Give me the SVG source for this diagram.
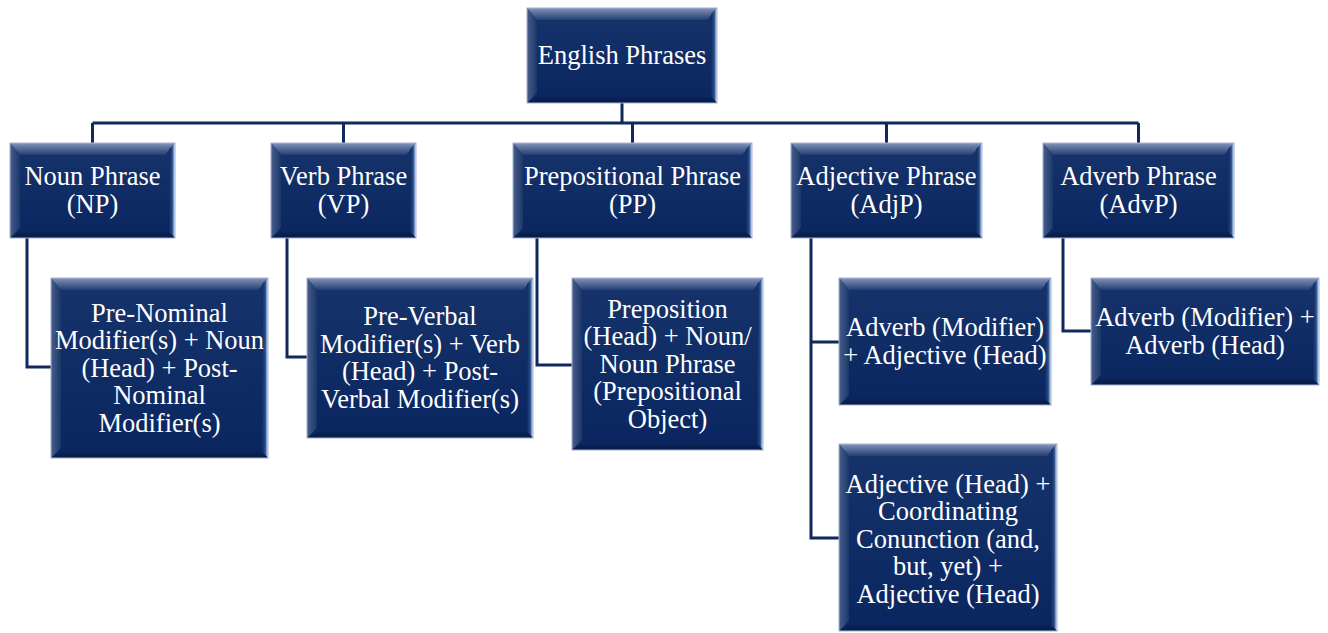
<svg xmlns="http://www.w3.org/2000/svg" width="1328" height="633" viewBox="0 0 1328 633">
  <defs>
    <linearGradient id="body" x1="0" y1="0" x2="0" y2="1">
      <stop offset="0" stop-color="#17336b"/>
      <stop offset="1" stop-color="#0a2660"/>
    </linearGradient>
    <linearGradient id="bevT" x1="0" y1="0" x2="0" y2="1">
      <stop offset="0" stop-color="#8a9ac0"/>
      <stop offset="0.2" stop-color="#7082ab"/>
      <stop offset="1" stop-color="#233e74"/>
    </linearGradient>
    <linearGradient id="bevL" x1="0" y1="0" x2="1" y2="0">
      <stop offset="0" stop-color="#4a5f8c"/>
      <stop offset="1" stop-color="#1a3669"/>
    </linearGradient>
    <linearGradient id="bevR" x1="0" y1="0" x2="1" y2="0">
      <stop offset="0" stop-color="#0e2a62"/>
      <stop offset="0.55" stop-color="#2c4c85"/>
      <stop offset="0.85" stop-color="#9cc0e8"/>
      <stop offset="1" stop-color="#d8ecff"/>
    </linearGradient>
    <linearGradient id="bevB" x1="0" y1="0" x2="0" y2="1">
      <stop offset="0" stop-color="#0a2457"/>
      <stop offset="1" stop-color="#061a45"/>
    </linearGradient>
  </defs>
  <style>
    .body { fill: url(#body); }
    .bt { fill: url(#bevT); }
    .bl { fill: url(#bevL); }
    .br { fill: url(#bevR); }
    .bb { fill: url(#bevB); }
    .edge { fill: none; stroke: #a4b4d2; stroke-width: 1; }
    .lbl { font-family: "Liberation Serif", "Times New Roman", serif; font-size: 26.5px; fill: #ffffff; text-anchor: middle; }
    .wire { fill: none; stroke: #10295a; stroke-width: 3; }
  </style>

  <rect width="1328" height="633" fill="#ffffff"/>

  <!-- connectors -->
  <g id="connectors">
    <path class="wire" d="M622,103 V123"/>
    <path class="wire" d="M92.5,123 H1138.5"/>
    <path class="wire" d="M92.5,123 V143 M343.5,123 V143 M632.5,123 V143 M886.5,123 V143 M1138.5,123 V143"/>
    <path class="wire" d="M27,238 V367 H51"/>
    <path class="wire" d="M287,238 V357 H307"/>
    <path class="wire" d="M537,238 V365 H572"/>
    <path class="wire" d="M811,238 V538 H839 M811,342 H839"/>
    <path class="wire" d="M1063,238 V331 H1091"/>
  </g>

  <!-- root -->
  <g id="root">
    <rect class="body" x="527" y="8" width="190" height="95"/>
    <polygon class="bt" points="527,8 717,8 707,20 537,20"/>
    <polygon class="bl" points="527,8 537,20 537,93 527,103"/>
    <polygon class="br" points="717,8 717,103 711,97 711,14"/>
    <polygon class="bb" points="527,103 537,97 711,97 717,103"/>
    <rect class="edge" x="527" y="8" width="190" height="95"/>
    <text class="lbl" x="622" y="64">English Phrases</text>
  </g>

  <!-- level 1 -->
  <g id="np">
    <rect class="body" x="10" y="143" width="165" height="95"/>
    <polygon class="bt" points="10,143 175,143 165,155 20,155"/>
    <polygon class="bl" points="10,143 20,155 20,228 10,238"/>
    <polygon class="br" points="175,143 175,238 169,232 169,149"/>
    <polygon class="bb" points="10,238 20,232 169,232 175,238"/>
    <rect class="edge" x="10" y="143" width="165" height="95"/>
    <text class="lbl" x="92.5" y="185.25">Noun Phrase</text>
    <text class="lbl" x="92.5" y="212.75">(NP)</text>
  </g>

  <g id="vp">
    <rect class="body" x="271" y="143" width="145" height="95"/>
    <polygon class="bt" points="271,143 416,143 406,155 281,155"/>
    <polygon class="bl" points="271,143 281,155 281,228 271,238"/>
    <polygon class="br" points="416,143 416,238 410,232 410,149"/>
    <polygon class="bb" points="271,238 281,232 410,232 416,238"/>
    <rect class="edge" x="271" y="143" width="145" height="95"/>
    <text class="lbl" x="343.5" y="185.25">Verb Phrase</text>
    <text class="lbl" x="343.5" y="212.75">(VP)</text>
  </g>

  <g id="pp">
    <rect class="body" x="513" y="143" width="239" height="95"/>
    <polygon class="bt" points="513,143 752,143 742,155 523,155"/>
    <polygon class="bl" points="513,143 523,155 523,228 513,238"/>
    <polygon class="br" points="752,143 752,238 746,232 746,149"/>
    <polygon class="bb" points="513,238 523,232 746,232 752,238"/>
    <rect class="edge" x="513" y="143" width="239" height="95"/>
    <text class="lbl" x="632.5" y="185.25">Prepositional Phrase</text>
    <text class="lbl" x="632.5" y="212.75">(PP)</text>
  </g>

  <g id="adjp">
    <rect class="body" x="791" y="143" width="191" height="95"/>
    <polygon class="bt" points="791,143 982,143 972,155 801,155"/>
    <polygon class="bl" points="791,143 801,155 801,228 791,238"/>
    <polygon class="br" points="982,143 982,238 976,232 976,149"/>
    <polygon class="bb" points="791,238 801,232 976,232 982,238"/>
    <rect class="edge" x="791" y="143" width="191" height="95"/>
    <text class="lbl" x="886.5" y="185.25">Adjective Phrase</text>
    <text class="lbl" x="886.5" y="212.75">(AdjP)</text>
  </g>

  <g id="advp">
    <rect class="body" x="1043" y="143" width="191" height="95"/>
    <polygon class="bt" points="1043,143 1234,143 1224,155 1053,155"/>
    <polygon class="bl" points="1043,143 1053,155 1053,228 1043,238"/>
    <polygon class="br" points="1234,143 1234,238 1228,232 1228,149"/>
    <polygon class="bb" points="1043,238 1053,232 1228,232 1234,238"/>
    <rect class="edge" x="1043" y="143" width="191" height="95"/>
    <text class="lbl" x="1138.5" y="185.25">Adverb Phrase</text>
    <text class="lbl" x="1138.5" y="212.75">(AdvP)</text>
  </g>

  <!-- level 2 -->
  <g id="np-structure">
    <rect class="body" x="51" y="278" width="217" height="180"/>
    <polygon class="bt" points="51,278 268,278 258,290 61,290"/>
    <polygon class="bl" points="51,278 61,290 61,448 51,458"/>
    <polygon class="br" points="268,278 268,458 262,452 262,284"/>
    <polygon class="bb" points="51,458 61,452 262,452 268,458"/>
    <rect class="edge" x="51" y="278" width="217" height="180"/>
    <text class="lbl" x="159.5" y="321.5">Pre-Nominal</text>
    <text class="lbl" x="159.5" y="349">Modifier(s) + Noun</text>
    <text class="lbl" x="159.5" y="376.5">(Head) + Post-</text>
    <text class="lbl" x="159.5" y="404">Nominal</text>
    <text class="lbl" x="159.5" y="431.5">Modifier(s)</text>
  </g>

  <g id="vp-structure">
    <rect class="body" x="307" y="278" width="226" height="160"/>
    <polygon class="bt" points="307,278 533,278 523,290 317,290"/>
    <polygon class="bl" points="307,278 317,290 317,428 307,438"/>
    <polygon class="br" points="533,278 533,438 527,432 527,284"/>
    <polygon class="bb" points="307,438 317,432 527,432 533,438"/>
    <rect class="edge" x="307" y="278" width="226" height="160"/>
    <text class="lbl" x="420" y="325.25">Pre-Verbal</text>
    <text class="lbl" x="420" y="352.75">Modifier(s) + Verb</text>
    <text class="lbl" x="420" y="380.25">(Head) + Post-</text>
    <text class="lbl" x="420" y="407.75">Verbal Modifier(s)</text>
  </g>

  <g id="pp-structure">
    <rect class="body" x="572" y="278" width="191" height="172"/>
    <polygon class="bt" points="572,278 763,278 753,290 582,290"/>
    <polygon class="bl" points="572,278 582,290 582,440 572,450"/>
    <polygon class="br" points="763,278 763,450 757,444 757,284"/>
    <polygon class="bb" points="572,450 582,444 757,444 763,450"/>
    <rect class="edge" x="572" y="278" width="191" height="172"/>
    <text class="lbl" x="667.5" y="317.5">Preposition</text>
    <text class="lbl" x="667.5" y="345">(Head) + Noun/</text>
    <text class="lbl" x="667.5" y="372.5">Noun Phrase</text>
    <text class="lbl" x="667.5" y="400">(Prepositional</text>
    <text class="lbl" x="667.5" y="427.5">Object)</text>
  </g>

  <g id="adjp-modified">
    <rect class="body" x="839" y="278" width="212" height="127"/>
    <polygon class="bt" points="839,278 1051,278 1041,290 849,290"/>
    <polygon class="bl" points="839,278 849,290 849,395 839,405"/>
    <polygon class="br" points="1051,278 1051,405 1045,399 1045,284"/>
    <polygon class="bb" points="839,405 849,399 1045,399 1051,405"/>
    <rect class="edge" x="839" y="278" width="212" height="127"/>
    <text class="lbl" x="945" y="336.25">Adverb (Modifier)</text>
    <text class="lbl" x="945" y="363.75">+ Adjective (Head)</text>
  </g>

  <g id="adjp-coordinated">
    <rect class="body" x="839" y="444" width="218" height="187"/>
    <polygon class="bt" points="839,444 1057,444 1047,456 849,456"/>
    <polygon class="bl" points="839,444 849,456 849,621 839,631"/>
    <polygon class="br" points="1057,444 1057,631 1051,625 1051,450"/>
    <polygon class="bb" points="839,631 849,625 1051,625 1057,631"/>
    <rect class="edge" x="839" y="444" width="218" height="187"/>
    <text class="lbl" x="948" y="492.5">Adjective (Head) +</text>
    <text class="lbl" x="948" y="520">Coordinating</text>
    <text class="lbl" x="948" y="547.5">Conunction (and,</text>
    <text class="lbl" x="948" y="575">but, yet) +</text>
    <text class="lbl" x="948" y="602.5">Adjective (Head)</text>
  </g>

  <g id="advp-structure">
    <rect class="body" x="1091" y="278" width="228" height="107"/>
    <polygon class="bt" points="1091,278 1319,278 1309,290 1101,290"/>
    <polygon class="bl" points="1091,278 1101,290 1101,375 1091,385"/>
    <polygon class="br" points="1319,278 1319,385 1313,379 1313,284"/>
    <polygon class="bb" points="1091,385 1101,379 1313,379 1319,385"/>
    <rect class="edge" x="1091" y="278" width="228" height="107"/>
    <text class="lbl" x="1205" y="326.25">Adverb (Modifier) +</text>
    <text class="lbl" x="1205" y="353.75">Adverb (Head)</text>
  </g>
</svg>
